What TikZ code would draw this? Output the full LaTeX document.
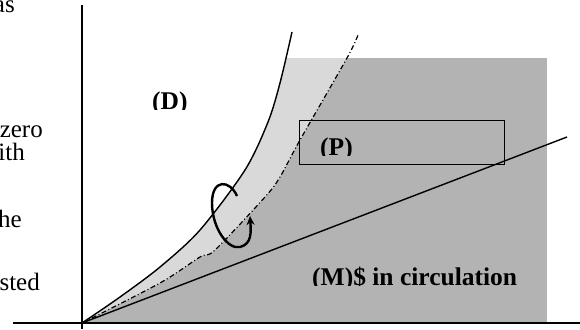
\documentclass[tikz,border=0pt]{standalone}
\usepackage{fontspec}
\setmainfont{Liberation Serif}
\usetikzlibrary{arrows.meta}
\definecolor{darkfill}{HTML}{B3B3B3}
\definecolor{lightfill}{HTML}{D9D9D9}
\tikzset{
  axisline/.style={line width=1.5pt, black},
  curveline/.style={line width=1.4pt, black},
  dashdotline/.style={line width=1.2pt, black, dash pattern=on 5pt off 2.5pt on 1pt off 2.5pt},
  sidetext/.style={inner sep=0pt, anchor=base east, font=\fontsize{25}{27}\selectfont},
  lbl/.style={inner sep=0pt, anchor=base west, font=\fontsize{25.5}{28}\selectfont\bfseries},
  loopline/.style={line width=2.4pt, black, -{Stealth[length=9pt,width=8pt]}}
}
\begin{document}
\begin{tikzpicture}[x=1pt,y=-1pt]
\clip (0,0) rectangle (580,329);
% named points
\coordinate (O) at (82,323);
\coordinate (ytop) at (82,5);
\coordinate (ybot) at (82,329);
\coordinate (xleft) at (13,323);
\coordinate (xright) at (580,323);
\coordinate (Lend) at (567,137);
% dark region
\fill[darkfill] (82,58) rectangle (547,323);
% light region between the two curves
\begin{scope}
  \clip (82,58) rectangle (547,323);
  \fill[lightfill] plot[smooth] coordinates {(82,323) (120,297) (160,267) (200,230) (245,170) (268,122) (280,83) (292,32)}
    -- (358,35) --
    plot[smooth] coordinates {(358,35) (347,58) (300,140) (280,177) (265,197) (215,250) (200,257) (160,283) (82,323)} -- cycle;
  \fill[white] plot[smooth] coordinates {(82,323) (120,297) (160,267) (200,230) (245,170) (268,122) (280,83) (292,32)}
    -- (82,32) -- cycle;
\end{scope}
% curves
\draw[curveline] plot[smooth] coordinates {(82,323) (120,297) (160,267) (200,230) (245,170) (268,122) (280,83) (292,32)};
\draw[dashdotline] plot[smooth] coordinates {(82,323) (160,283) (200,257) (215,250) (265,197) (280,177) (300,140) (347,58) (358,35)};
\draw[curveline] (O) -- (Lend);
% axes
\draw[axisline] (ytop) -- (ybot);
\draw[axisline] (xleft) -- (xright);
% box P
\node[draw, line width=1.4pt, minimum width=205pt, minimum height=44pt, anchor=north west, inner sep=0pt] (boxP) at (299,120) {};
% labels (bottoms clipped as in the reference)
\begin{scope}
  \clip (140,80) rectangle (200,109.5);
  \node[lbl] (labD) at (152,109) {(D)};
\end{scope}
\begin{scope}
  \clip (310,125) rectangle (370,155.8);
  \node[lbl] (labP) at (320,155) {(P)};
\end{scope}
\begin{scope}
  \clip (300,255) rectangle (540,285.8);
  \node[lbl] (labM) at (312,285) {(M)\$ in circulation};
\end{scope}
% loop arrow
\coordinate (loopS) at (237,196);
\coordinate (loopE) at (250,216);
\draw[loopline] (loopS) .. controls (230,180) and (212,178) .. (212,203)
  .. controls (212,228) and (228,250) .. (240,247)
  .. controls (252,244) and (251,232) .. (loopE);
% side texts
\node[sidetext] (t1) at (15,13) {as};
\node[sidetext] (t2) at (43,137) {zero};
\node[sidetext] (t3) at (25,160) {ith};
\node[sidetext] (t4) at (22,227) {he};
\node[sidetext] (t5) at (40,290) {sted};
\end{tikzpicture}
\end{document}
